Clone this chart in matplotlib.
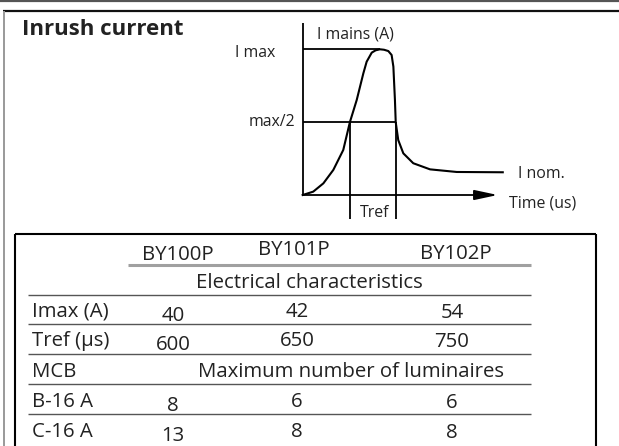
import matplotlib
matplotlib.use("Agg")
import matplotlib.pyplot as plt

# ---------------- data ----------------
models = ["BY100P", "BY101P", "BY102P"]
imax_a = [40, 42, 54]
tref_us = [600, 650, 750]
max_lum_b16 = [8, 6, 6]
max_lum_c16 = [13, 8, 8]
row_labels = ["Imax (A)", "Tref (µs)", "MCB", "B-16 A", "C-16 A"]

# schematic inrush curve (time in arbitrary units, current relative to Imax)
curve_t = [0, 0.54, 1.06, 1.57, 2.08, 2.42, 2.77, 3.11, 3.28, 3.54, 3.74, 3.96,
           4.17, 4.39, 4.56, 4.65, 4.73, 4.77, 4.90, 5.16, 5.67, 6.53, 7.90, 10.26]
curve_i = [0, 0.023, 0.080, 0.172, 0.309, 0.50, 0.652, 0.835, 0.915, 0.977, 0.993, 1.0,
           0.997, 0.988, 0.961, 0.881, 0.652, 0.50, 0.377, 0.286, 0.218, 0.176, 0.158, 0.156]
i_max = 1.0
i_half = 0.5
t_peak = 3.96
t_rise_half = 2.42
t_fall_half = 4.77

FONT = "Open Sans"
CAPR = 0.714
W, H = 619, 446
fig = plt.figure(figsize=(W / 100, H / 100), dpi=100)
ax = fig.add_axes([0, 0, 1, 1])
ax.set_xlim(0, W)
ax.set_ylim(H, 0)
ax.axis("off")
renderer = fig.canvas.get_renderer()


def fit_px(text, target_w, weight="normal"):
    t = ax.text(0, 0, text, fontsize=20, fontfamily=FONT, fontweight=weight)
    w = t.get_window_extent(renderer).width
    t.remove()
    return 20 * target_w / w / 0.72  # returns size in px


def pt(p):
    return p * 0.72

# outer frame
ax.plot([0, W], [1, 1], color="#555555", lw=1.6, solid_capstyle="butt")
ax.plot([3, W], [10.8, 10.8], color="#111111", lw=1.6, solid_capstyle="butt")
ax.plot([3.7, 3.7], [10.8, H], color="#999999", lw=1.4, solid_capstyle="butt")

# title
title_px = fit_px("Inrush current", 161, "bold")
ax.text(21.5, 27.5 + title_px * CAPR / 2, "Inrush current", fontfamily=FONT,
        fontweight="bold", fontsize=pt(title_px), color="#222222",
        va="baseline", ha="left")

# ---------------- diagram ----------------
x0, y0 = 302.7, 195.0
sx, sy = 19.5, 145.7
dax = fig.add_axes([x0 / W, (H - y0) / H, 10 * sx / W, sy / H])
dax.set_xlim(0, 10)
dax.set_ylim(0, 1)
dax.axis("off")
lk = dict(color="black", lw=1.3, clip_on=False, solid_capstyle="butt")
dax.plot([0, 0], [0, (y0 - 22.7) / sy], **lk)
dax.annotate("", xy=(10, 0), xytext=(0, 0), annotation_clip=False,
             arrowprops=dict(arrowstyle="-|>,head_length=1.4,head_width=0.3",
                             mutation_scale=10, lw=1.3, color="black",
                             shrinkA=0, shrinkB=0))
dax.plot([0, t_peak], [i_max, i_max], **lk)
dax.plot([0, t_fall_half], [i_half, i_half], **lk)
ybot = (y0 - 218.5) / sy
dax.plot([t_rise_half, t_rise_half], [i_half, ybot], **lk)
dax.plot([t_fall_half, t_fall_half], [i_half, ybot], **lk)
dax.plot(curve_t, curve_i, color="black", lw=1.5, clip_on=False)

dpx = (fit_px("I mains (A)", 78) + fit_px("Time (us)", 66)) / 2
lab = dict(fontfamily=FONT, fontsize=pt(dpx), color="#222222", va="baseline")
cap = dpx * CAPR
ax.text(275, 51.7 + cap / 2, "I max", ha="right", **lab)
ax.text(295, 120 + cap / 2, "max/2", ha="right", **lab)
ax.text(316.7, 33.3 + cap / 2, "I mains (A)", ha="left", **lab)
ax.text(518, 172.3 + cap / 2, "I nom.", ha="left", **lab)
ax.text(509, 201.7 + cap / 2, "Time (us)", ha="left", **lab)
ax.text(375, 211.7 + cap / 2, "Tref", ha="center", **lab)

# ---------------- table ----------------
bk = dict(color="black", lw=1.5, solid_capstyle="butt")
ax.plot([15, 595.7], [234.3, 234.3], **bk)
ax.plot([15, 15], [234.3, H], **bk)
ax.plot([595.7, 595.7], [234.3, H], **bk)
ax.plot([128.3, 530.5], [265.3, 265.3], color="#a0a0a0", lw=2.2, solid_capstyle="butt")
for yl in [295.3, 323.7, 353.7, 384.3, 414.3]:
    ax.plot([28, 530.5], [yl, yl], color="#555555", lw=1.0, solid_capstyle="butt")

tpx = (fit_px("Electrical characteristics", 242) +
       fit_px("Maximum number of luminaires", 287)) / 2
tcap = tpx * CAPR
tt = dict(fontfamily=FONT, fontsize=pt(tpx), color="#222222", va="baseline")
head_x = [177.5, 294.0, 456.0]
head_y = [252.7, 247.7, 252.0]
for m, hx, hy in zip(models, head_x, head_y):
    ax.text(hx, hy + tcap / 2, m, ha="center", **tt)

ax.text(309, 280.3 + tcap / 2, "Electrical characteristics", ha="center", **tt)
ax.text(351.5, 369.3 + tcap / 2, "Maximum number of luminaires", ha="center", **tt)

row_y = [309.3, 338.7, 369.3, 399.3, 429.3]
for lbl, ry in zip(row_labels, row_y):
    ax.text(31.7, ry + tcap / 2, lbl, ha="left", **tt)

col_x = [173.0, 297.0, 452.0]
col_dy = [4.0, 0.0, 1.5]
value_rows = [(imax_a, row_y[0]), (tref_us, row_y[1]),
              (max_lum_b16, row_y[3]), (max_lum_c16, row_y[4])]
for vals, ry in value_rows:
    for v, cx, dy in zip(vals, col_x, col_dy):
        ax.text(cx, ry + dy + tcap / 2, str(v), ha="center", **tt)

fig.savefig("out.png", dpi=100)
